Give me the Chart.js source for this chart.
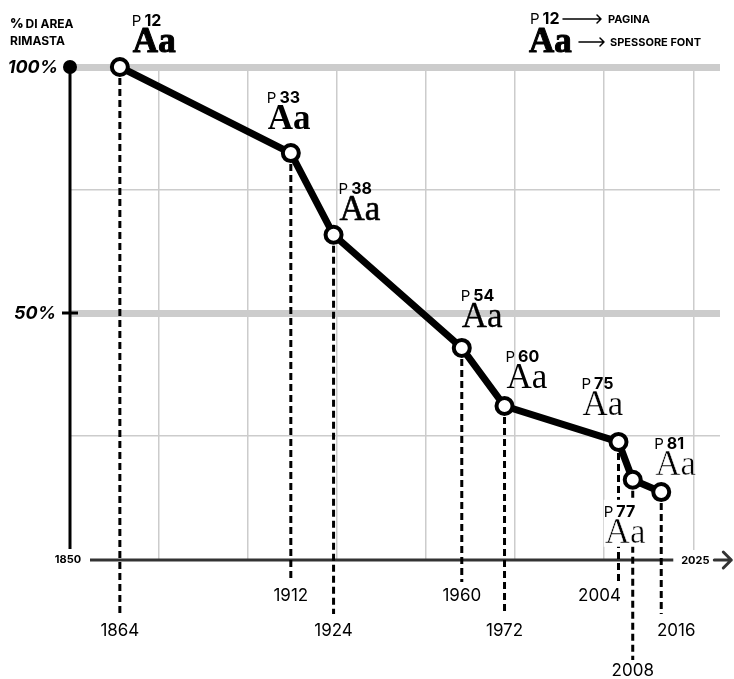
<!DOCTYPE html>
<html>
<head>
<meta charset="utf-8">
<script src="https://cdn.jsdelivr.net/npm/chart.js@4"></script>
<style>
  html, body { margin: 0; padding: 0; background: #fff; }
  #wrap { width: 734px; height: 679px; }
</style>
</head>
<body>
<div id="wrap"><canvas id="chart" width="734" height="679"></canvas></div>
<script>
// data
const years = [1864, 1912, 1924, 1960, 1972, 2004, 2008, 2016];
const areaLeft = [100, 82.5, 65.9, 42.9, 31.1, 23.8, 16.1, 13.6];
const pages = [12, 33, 38, 54, 60, 75, 77, 81];
const fontWeights = [900, 700, 500, 450, 400, 350, 300, 300];
const yTicks = [0, 25, 50, 75, 100];
const xTicks = [1875, 1900, 1925, 1950, 1975, 2000, 2025];
const xStart = 1850;
const xEnd = 2025;

// label placement (offsets of the "Aa" from the point, year label row / shift)
const labelOffsets = [[13, -15], [-23, -24], [6, -15], [0, -21], [2, -18], [-36, -27], [-28, 63], [-6, -17]];
const yearRows = [1, 0, 1, 0, 1, 0, 2, 1];
const yearShift = [0, 0, 0, 0, 0, -19, 0, 15];

const SANS = 'Inter, "Liberation Sans", sans-serif';
const SERIF = '"Liberation Serif", serif';

function drawAa(ctx, x, y, weight) {
  ctx.save();
  ctx.fillStyle = '#000';
  ctx.textBaseline = 'alphabetic';
  ctx.textAlign = 'left';
  ctx.lineJoin = 'round';
  if (weight >= 700) {
    ctx.font = 'bold 35px ' + SERIF;
    ctx.fillText('Aa', x, y);
    const sw = (weight - 700) / 100 * 0.5;
    if (sw > 0) { ctx.strokeStyle = '#000'; ctx.lineWidth = sw; ctx.strokeText('Aa', x, y); }
  } else {
    ctx.font = '35px ' + SERIF;
    ctx.fillText('Aa', x, y);
    if (weight > 400) {
      ctx.strokeStyle = '#000';
      ctx.lineWidth = (weight - 400) / 100 * 0.6;
      ctx.strokeText('Aa', x, y);
    } else if (weight < 400) {
      ctx.strokeStyle = '#fff';
      ctx.lineWidth = (400 - weight) / 100 * 0.5;
      ctx.strokeText('Aa', x, y);
    }
  }
  ctx.restore();
}

function drawPage(ctx, x, y, num) {
  ctx.save();
  ctx.fillStyle = '#000';
  ctx.textBaseline = 'alphabetic';
  ctx.textAlign = 'left';
  ctx.font = '15px ' + SANS;
  ctx.fillText('P', x, y);
  const w = ctx.measureText('P').width;
  ctx.font = 'bold 16px ' + SANS;
  ctx.fillText(String(num), x + w + 3, y);
  ctx.restore();
}

function arrowRight(ctx, x1, x2, y, head, lw, color) {
  ctx.save();
  ctx.strokeStyle = color;
  ctx.lineWidth = lw;
  ctx.lineCap = 'round';
  ctx.lineJoin = 'round';
  ctx.beginPath();
  ctx.moveTo(x1, y);
  ctx.lineTo(x2, y);
  ctx.moveTo(x2 - head, y - head);
  ctx.lineTo(x2, y);
  ctx.lineTo(x2 - head, y + head);
  ctx.stroke();
  ctx.restore();
}

const overlay = {
  id: 'overlay',
  beforeDatasetsDraw(chart) {
    const ctx = chart.ctx;
    const xs = chart.scales.x;
    const ys = chart.scales.y;
    const x0 = xs.getPixelForValue(xStart);
    const x1 = xs.getPixelForValue(xEnd);
    const yTop = ys.getPixelForValue(100);
    const yBase = ys.getPixelForValue(0);

    // y axis
    ctx.save();
    ctx.strokeStyle = '#000';
    ctx.lineWidth = 3;
    ctx.beginPath();
    ctx.moveTo(x0, yTop);
    ctx.lineTo(x0, yBase - 10);
    ctx.stroke();
    // 50% tick
    const y50 = ys.getPixelForValue(50);
    ctx.beginPath();
    ctx.moveTo(x0 - 8, y50);
    ctx.lineTo(x0 + 8, y50);
    ctx.stroke();
    // 100% dot
    ctx.fillStyle = '#000';
    ctx.beginPath();
    ctx.arc(x0, yTop, 7, 0, Math.PI * 2);
    ctx.fill();

    // x axis
    ctx.strokeStyle = '#333';
    ctx.lineWidth = 3;
    ctx.beginPath();
    ctx.moveTo(x0 + 20, yBase + 1);
    ctx.lineTo(x1 - 20, yBase + 1);
    ctx.stroke();
    ctx.restore();
    // white gap for the 2025 grid line end
    ctx.save();
    ctx.fillStyle = '#fff';
    ctx.fillRect(x1 - 16, yBase - 9, 34, 18);
    ctx.restore();
    arrowRight(ctx, x1 + 21, x1 + 38, yBase + 1, 8, 3, '#333');

    // axis labels
    ctx.save();
    ctx.fillStyle = '#000';
    ctx.textBaseline = 'middle';
    ctx.textAlign = 'center';
    ctx.font = 'bold 11px ' + SANS;
    ctx.fillText(String(xStart), x0 - 2, yBase + 1);
    ctx.fillText(String(xEnd), x1 + 2, yBase + 2);
    ctx.textAlign = 'right';
    ctx.font = 'italic bold 18px ' + SANS;
    ctx.fillText('100%', x0 - 12, yTop + 1);
    ctx.fillText('50%', x0 - 14, y50 + 1);
    ctx.textAlign = 'left';
    ctx.textBaseline = 'alphabetic';
    ctx.font = '900 13px ' + SANS;
    ctx.fillText('%', 10, 28);
    const pw = ctx.measureText('%').width;
    ctx.font = 'bold 12px ' + SANS;
    ctx.fillText('DI AREA', 10 + pw + 2, 28);
    ctx.fillText('RIMASTA', 10, 45);
    ctx.restore();

    // dashed drop lines and year labels
    const rowEnd = [582, 614, 660];
    const rowLabel = [596, 631, 671];
    ctx.save();
    ctx.strokeStyle = '#000';
    ctx.lineWidth = 3;
    ctx.setLineDash([7, 4]);
    years.forEach((yr, i) => {
      const px = xs.getPixelForValue(yr);
      const py = ys.getPixelForValue(areaLeft[i]);
      ctx.beginPath();
      ctx.moveTo(px, py);
      ctx.lineTo(px, rowEnd[yearRows[i]]);
      ctx.stroke();
    });
    ctx.setLineDash([]);
    ctx.fillStyle = '#000';
    ctx.font = '17px ' + SANS;
    ctx.textAlign = 'center';
    ctx.textBaseline = 'middle';
    years.forEach((yr, i) => {
      const px = xs.getPixelForValue(yr) + yearShift[i];
      ctx.fillText(String(yr), px, rowLabel[yearRows[i]]);
    });
    ctx.restore();
  },
  afterDatasetsDraw(chart) {
    const ctx = chart.ctx;
    const xs = chart.scales.x;
    const ys = chart.scales.y;
    years.forEach((yr, i) => {
      const px = xs.getPixelForValue(yr) + labelOffsets[i][0];
      const py = ys.getPixelForValue(areaLeft[i]) + labelOffsets[i][1];
      if (labelOffsets[i][1] > 0) {
        // label below the line: clear the drop lines behind it
        ctx.save();
        ctx.fillStyle = '#fff';
        ctx.fillRect(px - 1, py - 43, 44, 47);
        ctx.restore();
      }
      drawAa(ctx, px, py, fontWeights[i]);
      drawPage(ctx, px - 1, py - 26, pages[i]);
    });

    // legend
    drawPage(ctx, 530, 24, pages[0]);
    arrowRight(ctx, 563, 601, 19, 4, 1.5, '#000');
    drawAa(ctx, 529, 52, fontWeights[0]);
    arrowRight(ctx, 579, 604, 42, 4, 1.5, '#000');
    ctx.save();
    ctx.fillStyle = '#000';
    ctx.font = 'bold 11px ' + SANS;
    ctx.textBaseline = 'middle';
    ctx.fillText('PAGINA', 608, 20);
    ctx.fillText('SPESSORE FONT', 610, 43);
    ctx.restore();
  }
};

new Chart(document.getElementById('chart'), {
  type: 'line',
  data: {
    datasets: [{
      data: years.map((yr, i) => ({ x: yr, y: areaLeft[i] })),
      borderColor: '#000',
      borderWidth: 7,
      pointRadius: 8,
      pointBorderWidth: 4,
      pointBackgroundColor: '#fff',
      pointBorderColor: '#000',
      tension: 0,
      clip: false
    }]
  },
  options: {
    responsive: false,
    animation: false,
    layout: { padding: { left: 70, right: 14, top: 67, bottom: 120 }, autoPadding: false },
    plugins: { legend: { display: false }, tooltip: { enabled: false } },
    scales: {
      x: {
        type: 'linear',
        min: xStart,
        max: 2032.5,
        afterBuildTicks: (s) => { s.ticks = xTicks.map((v) => ({ value: v })); },
        ticks: { display: false },
        border: { display: false },
        grid: { color: '#cccccc', lineWidth: 1.5, drawTicks: false }
      },
      y: {
        min: 0,
        max: 100,
        afterBuildTicks: (s) => { s.ticks = yTicks.map((v) => ({ value: v })); },
        ticks: { display: false },
        border: { display: false },
        grid: {
          drawTicks: false,
          color: (c) => (c.tick && c.tick.value === 0 ? 'rgba(0,0,0,0)' : '#cccccc'),
          lineWidth: (c) => (c.tick && (c.tick.value === 50 || c.tick.value === 100) ? 7 : 1.5)
        }
      }
    }
  },
  plugins: [overlay]
});
</script>
</body>
</html>
